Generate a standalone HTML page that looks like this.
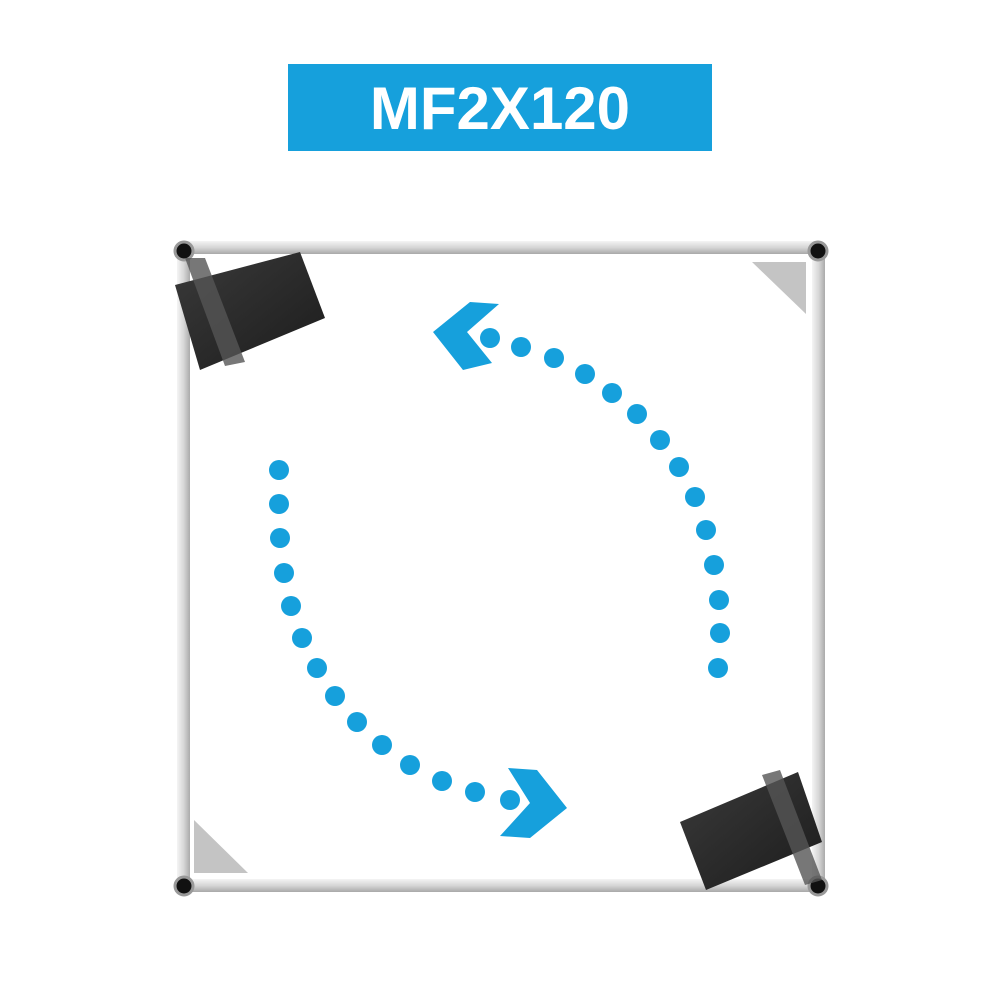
<!DOCTYPE html>
<html><head><style>
html,body{margin:0;padding:0;background:#fff;}
</style></head><body>
<svg width="1000" height="1000" viewBox="0 0 1000 1000" xmlns="http://www.w3.org/2000/svg">
<defs>
<linearGradient id="h" x1="0" y1="0" x2="0" y2="1"><stop offset="0" stop-color="#f4f4f4"/><stop offset="0.5" stop-color="#d6d6d6"/><stop offset="1" stop-color="#a8a8a8"/></linearGradient>
<linearGradient id="v" x1="0" y1="0" x2="1" y2="0"><stop offset="0" stop-color="#f4f4f4"/><stop offset="0.5" stop-color="#d8d8d8"/><stop offset="1" stop-color="#aaaaaa"/></linearGradient>
<linearGradient id="dk" x1="0" y1="0" x2="1" y2="1"><stop offset="0" stop-color="#3a3a3a"/><stop offset="1" stop-color="#1c1c1c"/></linearGradient>
</defs>
<rect x="288" y="64" width="424" height="87" fill="#16a0dc"/>
<text x="500" y="129" text-anchor="middle" font-family="Liberation Sans, sans-serif" font-weight="bold" font-size="60" fill="#fff">MF2X120</text>
<polygon points="752,262 806,262 806,314" fill="#c4c4c4"/>
<polygon points="194,820 194,873 248,873" fill="#c4c4c4"/>
<rect x="183" y="241" width="636" height="13" fill="url(#h)"/>
<rect x="183" y="879" width="636" height="13" fill="url(#h)"/>
<rect x="177" y="247" width="13" height="638" fill="url(#v)"/>
<rect x="812" y="247" width="13" height="638" fill="url(#v)"/>
<circle cx="184" cy="251" r="9" fill="#111" stroke="#999" stroke-width="3"/>
<circle cx="818" cy="251" r="9" fill="#111" stroke="#999" stroke-width="3"/>
<circle cx="184" cy="886" r="9" fill="#111" stroke="#999" stroke-width="3"/>
<circle cx="818" cy="886" r="9" fill="#111" stroke="#999" stroke-width="3"/>
<polygon points="175,285 300,252 325,318 200,370" fill="url(#dk)"/>
<polygon points="185,258 205,258 245,362 225,366" fill="#555" opacity="0.8"/>
<polygon points="680,822 798,772 822,842 706,890" fill="url(#dk)"/>
<polygon points="762,775 780,770 822,880 805,885" fill="#555" opacity="0.8"/>
<g fill="#16a0dc">
<circle cx="490" cy="338" r="10"/><circle cx="521" cy="347" r="10"/><circle cx="554" cy="358" r="10"/><circle cx="585" cy="374" r="10"/><circle cx="612" cy="393" r="10"/><circle cx="637" cy="414" r="10"/><circle cx="660" cy="440" r="10"/><circle cx="679" cy="467" r="10"/><circle cx="695" cy="497" r="10"/><circle cx="706" cy="530" r="10"/><circle cx="714" cy="565" r="10"/><circle cx="719" cy="600" r="10"/><circle cx="720" cy="633" r="10"/><circle cx="718" cy="668" r="10"/>
<circle cx="279" cy="470" r="10"/><circle cx="279" cy="504" r="10"/><circle cx="280" cy="538" r="10"/><circle cx="284" cy="573" r="10"/><circle cx="291" cy="606" r="10"/><circle cx="302" cy="638" r="10"/><circle cx="317" cy="668" r="10"/><circle cx="335" cy="696" r="10"/><circle cx="357" cy="722" r="10"/><circle cx="382" cy="745" r="10"/><circle cx="410" cy="765" r="10"/><circle cx="442" cy="781" r="10"/><circle cx="475" cy="792" r="10"/><circle cx="510" cy="800" r="10"/>
<polygon points="470,302 499,304 467,332 492,363 463,370 433,332"/>
<polygon points="508,768 537,770 567,808 530,838 500,836 530,803"/>
</g>
</svg>
</body></html>
